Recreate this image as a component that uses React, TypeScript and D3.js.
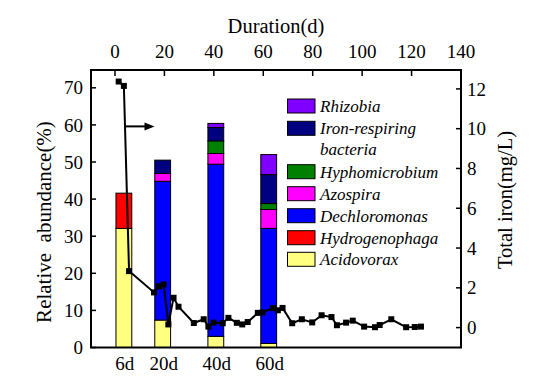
import React from "react";
import * as d3 from "d3";

const W = 533;
const H = 389;

const sampleLabels = ["6d", "20d", "40d", "60d"];
const sampleDays = [3.6, 19.3, 40.8, 62.2];

const taxa = ["Acidovorax", "Hydrogenophaga", "Dechloromonas", "Azospira", "Hyphomicrobium", "Iron-respiring bacteria", "Rhizobia"];
const taxaColors = ["#FFFF80", "#FF0000", "#0000FF", "#FF00FF", "#008000", "#000080", "#8000FF"];

const acidovorax = [32.1, 7.4, 3.0, 1.1];
const hydrogenophaga = [9.5, 0, 0, 0];
const dechloromonas = [0, 37.4, 46.4, 31.0];
const azospira = [0, 2.1, 2.9, 5.1];
const hyphomicrobium = [0, 0, 3.4, 1.6];
const ironRespiring = [0, 3.6, 3.6, 7.8];
const rhizobia = [0, 0, 1.1, 5.4];

const ironDays = [1.5, 3.6, 5.7, 15.8, 17.8, 19.7, 21.6, 23.7, 25.7, 31.9, 35.9, 37.8, 39.9, 43.6, 45.9, 49.3, 51.5, 53.7, 57.8, 59.7, 63.9, 65.9, 67.8, 71.7, 75.6, 79.8, 83.6, 87.6, 89.8, 93.5, 96.2, 100.8, 105.2, 107.1, 111.8, 117.8, 121.3, 123.8];
const ironValues = [12.37, 12.15, 2.84, 1.77, 2.08, 2.17, 0.16, 1.5, 1.05, 0.23, 0.42, 0.05, 0.25, 0.22, 0.49, 0.24, 0.16, 0.28, 0.74, 0.76, 0.98, 0.87, 0.99, 0.22, 0.42, 0.26, 0.62, 0.53, 0.12, 0.25, 0.35, 0.05, 0.02, 0.13, 0.42, 0.02, 0.03, 0.05];

const topTicks = [0, 20, 40, 60, 80, 100, 120, 140];
const leftTicks = [0, 10, 20, 30, 40, 50, 60, 70];
const rightTicks = [0, 2, 4, 6, 8, 10, 12];

const arrowDays = [3.8, 16.0];
const arrowLevel = 59.6;

const FONT = "Liberation Serif, Times New Roman, serif";

export default function App() {
  const left = 91, right = 461, top = 70, bottom = 347.5;
  const x = d3.scaleLinear().domain([-9.7, 140]).range([left, right]);
  const yL = d3.scaleLinear().domain([0, 74.8]).range([bottom, top]);
  const yR = d3.scaleLinear().domain([-1, 12.95]).range([bottom, top]);
  const barW = x(6.4) - x(0);

  const seriesArr = [acidovorax, hydrogenophaga, dechloromonas, azospira, hyphomicrobium, ironRespiring, rhizobia];
  const rows = sampleLabels.map((s, i) => {
    const r: any = { sample: s, day: sampleDays[i] };
    taxa.forEach((t, k) => (r[t] = seriesArr[k][i]));
    return r;
  });
  const stacked = d3.stack().keys(taxa)(rows);

  const pts = ironDays.map((d, i) => [x(d), yR(ironValues[i])] as [number, number]);
  const line = d3.line()(pts) || "";

  const legendOrder = [6, 5, 4, 3, 2, 1, 0];
  const legendY = [106, 128.3, 171.7, 193.7, 215.7, 237.7, 259.3];

  const ax0 = x(arrowDays[0]);
  const ax1 = x(arrowDays[1]);
  const ay = yL(arrowLevel);
  const ts: React.CSSProperties = { fontFamily: FONT };

  return (
    <svg width={W} height={H} style={{ position: "absolute", left: 0, top: 0, background: "#fff", fontFamily: FONT }}>
      {/* bars */}
      {stacked.map((layer, k) =>
        layer.map((seg, i) => {
          const h = yL(seg[0]) - yL(seg[1]);
          if (h <= 0.01) return null;
          return (
            <rect
              key={`${k}-${i}`}
              x={x(sampleDays[i]) - barW / 2}
              y={yL(seg[1])}
              width={barW}
              height={h}
              fill={taxaColors[k]}
              stroke="#000"
              strokeWidth={1}
            />
          );
        })
      )}

      {/* iron line */}
      <path d={line} fill="none" stroke="#000" strokeWidth={2} />
      {pts.map((p, i) => (
        <rect key={i} x={p[0] - 3} y={p[1] - 3} width={6} height={6} fill="#000" />
      ))}

      {/* arrow */}
      <line x1={ax0} y1={ay} x2={ax1 - 8} y2={ay} stroke="#000" strokeWidth={2} />
      <polygon points={`${ax1},${ay} ${ax1 - 10},${ay - 4} ${ax1 - 10},${ay + 4}`} fill="#000" />

      {/* frame */}
      <rect x={left} y={top} width={right - left} height={bottom - top} fill="none" stroke="#000" strokeWidth={2} />

      {/* top axis */}
      {topTicks.map((t) => (
        <g key={t}>
          <line x1={x(t)} x2={x(t)} y1={top} y2={top + 6} stroke="#000" strokeWidth={1.5} />
          <text style={ts} x={x(t)} y={58} fontSize={19} textAnchor="middle">{t}</text>
        </g>
      ))}
      <text style={ts} x={276} y={33} fontSize={20.5} textAnchor="middle">Duration(d)</text>

      {/* left axis */}
      {leftTicks.map((t) => (
        <g key={t}>
          <line x1={left} x2={left + 5} y1={yL(t)} y2={yL(t)} stroke="#000" strokeWidth={1.5} />
          <text style={ts} x={83} y={yL(t)} dy="0.35em" fontSize={19} textAnchor="end">{t}</text>
        </g>
      ))}
      <text
        transform={`translate(51,222) rotate(-90)`}
        fontSize={21}
        textAnchor="middle"
        style={{ whiteSpace: "pre", fontFamily: FONT }}
      >
        {"Relative  abundance(%)"}
      </text>

      {/* right axis */}
      {rightTicks.map((t) => (
        <g key={t}>
          <line x1={right - 5} x2={right} y1={yR(t)} y2={yR(t)} stroke="#000" strokeWidth={1.5} />
          <text style={ts} x={467} y={yR(t)} dy="0.35em" fontSize={19} textAnchor="start">{t}</text>
        </g>
      ))}
      <text style={ts} transform={`translate(512,200) rotate(-90)`} fontSize={20.5} textAnchor="middle">
        Total iron(mg/L)
      </text>

      {/* bottom labels */}
      {sampleLabels.map((s, i) => (
        <text style={ts} key={s} x={x(sampleDays[i]) + 1} y={370} fontSize={19} textAnchor="middle">{s}</text>
      ))}

      {/* legend */}
      {legendOrder.map((k, j) => (
        <g key={k}>
          <rect x={287.5} y={legendY[j] - 7} width={27.5} height={14} fill={taxaColors[k]} stroke="#000" strokeWidth={1} />
          {taxa[k] === "Iron-respiring bacteria" ? (
            <>
              <text style={ts} x={320} y={legendY[j]} dy="0.35em" fontSize={17} fontStyle="italic">Iron-respiring</text>
              <text style={ts} x={320} y={legendY[j] + 21} dy="0.35em" fontSize={17} fontStyle="italic">bacteria</text>
            </>
          ) : (
            <text style={ts} x={320} y={legendY[j]} dy="0.35em" fontSize={17} fontStyle="italic">{taxa[k]}</text>
          )}
        </g>
      ))}
    </svg>
  );
}
